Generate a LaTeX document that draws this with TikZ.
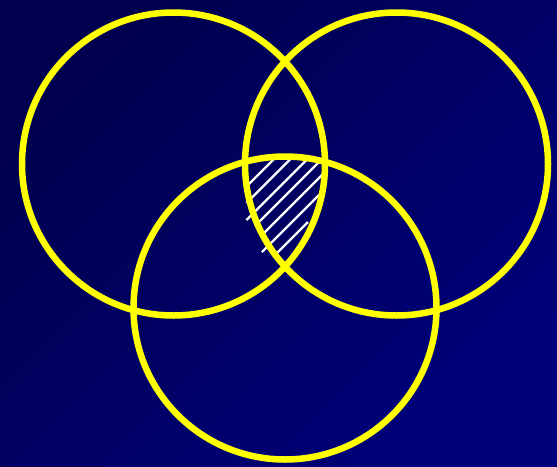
\documentclass[tikz,border=0pt]{standalone}
\definecolor{bgtl}{RGB}{0,0,78}
\definecolor{bgbr}{RGB}{0,0,122}
\definecolor{ringc}{RGB}{255,255,0}
\tikzset{
  ring/.style={draw=ringc, line width=6.5pt},
  hatchline/.style={draw=white, line width=2.4pt}
}
\begin{document}
\begin{tikzpicture}[x=1pt,y=-1pt]
\useasboundingbox (0,0) rectangle (557,466);
\shade[top color=bgtl, bottom color=bgbr, shading angle=45] (0,0) rectangle (557,466);
% hatching of the triple intersection
\draw[hatchline] (246.5,186.5) -- (275.5,157.5);
\draw[hatchline] (246.5,203) -- (292,157.5);
\draw[hatchline] (246.5,220) -- (308.5,158);
\draw[hatchline] (255,226) -- (322,159);
\draw[hatchline] (262,235) -- (325,172);
\draw[hatchline] (262,252) -- (325,189);
\draw[hatchline] (277,253) -- (308,222);
% circles
\draw[ring] (173.5,164) circle[radius=151.5];
\draw[ring] (396.5,164) circle[radius=151.5];
\draw[ring] (285,308) circle[radius=151.5];
\end{tikzpicture}
\end{document}
